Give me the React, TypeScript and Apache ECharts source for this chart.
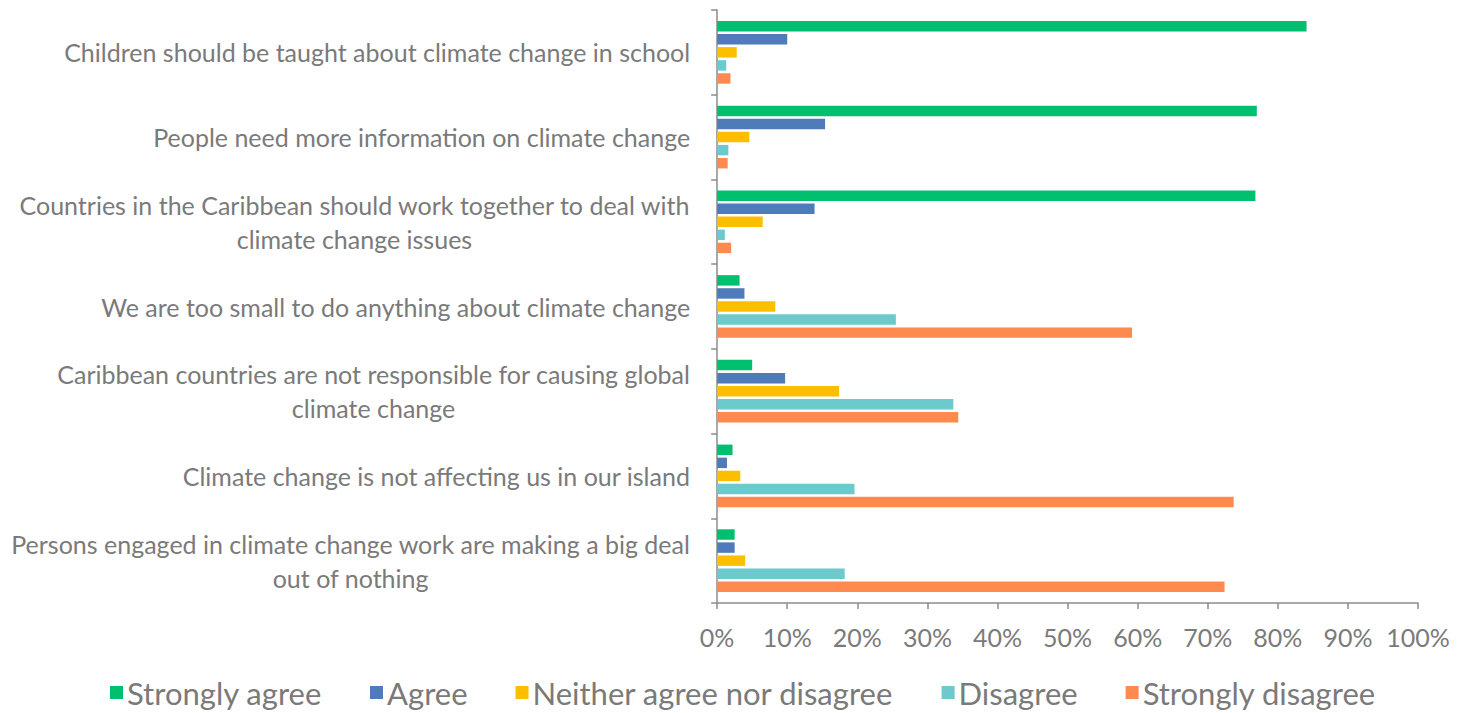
import React, { useEffect, useRef } from "react";
import * as echarts from "echarts";

const categories = [
  "Children should be taught about climate change in school",
  "People need more information on climate change",
  "Countries in the Caribbean should work together to deal with\nclimate change issues",
  "We are too small to do anything about climate change",
  "Caribbean countries are not responsible for causing global\nclimate change",
  "Climate change is not affecting us in our island",
  "Persons engaged in climate change work are making a big deal\nout of nothing",
];

const seriesNames = [
  "Strongly agree",
  "Agree",
  "Neither agree nor disagree",
  "Disagree",
  "Strongly disagree",
];

const stronglyAgree = [84.1, 77.0, 76.8, 3.2, 5.0, 2.2, 2.5];
const agree = [10.0, 15.4, 13.9, 3.9, 9.7, 1.4, 2.5];
const neither = [2.8, 4.6, 6.5, 8.3, 17.4, 3.3, 4.0];
const disagree = [1.3, 1.6, 1.1, 25.5, 33.7, 19.6, 18.2];
const stronglyDisagree = [1.9, 1.5, 2.0, 59.2, 34.4, 73.7, 72.4];

const seriesValues = [stronglyAgree, agree, neither, disagree, stronglyDisagree];
const colors = ["#00BF6F", "#4F7BBA", "#FBBF00", "#6CC9CC", "#FF8A4F"];

const FONT = "Lato, 'Open Sans', sans-serif";
const GRAY = "#7a7a7a";

export default function App() {
  const ref = useRef<HTMLDivElement>(null);
  useEffect(() => {
    if (!ref.current) return;
    const chart = echarts.init(ref.current, undefined, { renderer: "svg" });
    chart.setOption({
      animation: false,
      grid: { left: 709, right: 39, top: 2, bottom: 110, containLabel: false },
      legend: {
        bottom: 0,
        left: 97,
        itemWidth: 13,
        itemHeight: 13,
        itemGap: 48,
        icon: "rect",
        textStyle: { color: GRAY, fontSize: 31, fontFamily: FONT, padding: [0, 0, 0, -1] },
        data: seriesNames,
      },
      xAxis: {
        type: "value",
        min: 0,
        max: 100,
        interval: 10,
        axisLine: { show: true, lineStyle: { color: "#8c8c8c", width: 1.5 } },
        axisTick: { show: true, length: 6, lineStyle: { color: "#8c8c8c", width: 1.5 } },
        splitLine: { show: false },
        axisLabel: {
          formatter: "{value}%",
          color: GRAY,
          fontSize: 25,
          fontFamily: FONT,
          margin: 21,
        },
      },
      yAxis: {
        type: "category",
        inverse: true,
        data: categories,
        axisLine: { show: true, lineStyle: { color: "#8c8c8c", width: 1.5 } },
        axisTick: { show: true, length: 6, lineStyle: { color: "#8c8c8c", width: 1.5 } },
        axisLabel: {
          margin: 27,
          color: GRAY,
          fontSize: 25,
          fontFamily: FONT,
          lineHeight: 34,
          formatter: (v: string) =>
            v
              .split("\n")
              .map((l) => "{c|" + l + "}")
              .join("\n"),
          rich: {
            c: { align: "center", color: GRAY, fontSize: 25, fontFamily: FONT, lineHeight: 34 },
          },
        },
      },
      series: seriesNames.map((name, i) => ({
        name,
        type: "bar",
        data: seriesValues[i],
        itemStyle: { color: colors[i] },
        barCategoryGap: "26%",
        barGap: "25%",
      })),
    });
    return () => chart.dispose();
  }, []);
  return <div ref={ref} style={{ width: 1449, height: 705 }} />;
}
